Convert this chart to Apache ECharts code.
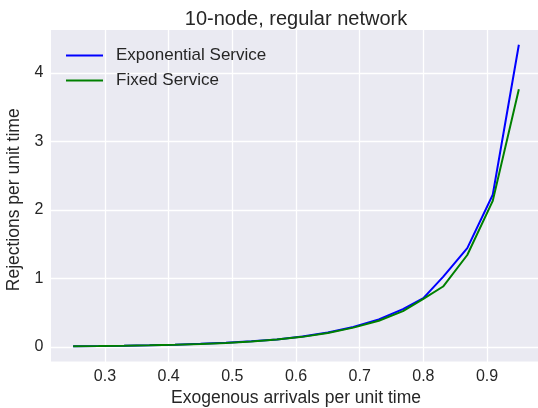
<!DOCTYPE html>
<html>
<head>
<meta charset="utf-8">
<script src="https://cdn.jsdelivr.net/npm/echarts@6/dist/echarts.min.js"></script>
<style>html,body{margin:0;padding:0;background:#fff;}#c{width:538px;height:408px;}</style>
</head>
<body>
<div id="c"></div>
<script>
const titleText = "10-node, regular network";
const xName = "Exogenous arrivals per unit time";
const yName = "Rejections per unit time";
const seriesNames = ["Exponential Service", "Fixed Service"];
const arrivals = [0.25, 0.29, 0.33, 0.37, 0.41, 0.45, 0.49, 0.53, 0.57, 0.61, 0.65, 0.69, 0.73, 0.768, 0.80, 0.831, 0.869, 0.909, 0.95];
const expRejections = [0.008, 0.011, 0.016, 0.022, 0.031, 0.043, 0.059, 0.08, 0.108, 0.15, 0.21, 0.29, 0.40, 0.55, 0.71, 1.02, 1.44, 2.22, 4.41];
const fixRejections = [0.008, 0.011, 0.016, 0.022, 0.030, 0.042, 0.057, 0.078, 0.105, 0.145, 0.20, 0.28, 0.38, 0.52, 0.70, 0.88, 1.34, 2.13, 3.76];
const xTicks = [0.3, 0.4, 0.5, 0.6, 0.7, 0.8, 0.9];
const yTicks = [0, 1, 2, 3, 4];

const chart = echarts.init(document.getElementById('c'), null, {renderer: 'canvas'});
const font = 'Liberation Sans, Arial, sans-serif';
const txt = '#262626';
function pairs(xs, ys){ return xs.map((x,i)=>[x, ys[i]]); }
chart.setOption({
  animation: false,
  backgroundColor: '#ffffff',
  title: {
    text: titleText, left: 291, top: 4, textAlign: 'center',
    textStyle: {fontFamily: font, fontSize: 20, fontWeight: 'normal', color: txt}
  },
  graphic: [{
    type: 'rect', z: -10, silent: true,
    shape: {x: 51, y: 30, width: 500, height: 331.5},
    style: {fill: '#EAEAF2'}
  }],
  grid: {left: 41.3, right: -12.7, top: 4.3, bottom: -7.3, containLabel: false, outerBoundsMode: 'none'},
  legend: {
    left: 66, top: 47, orient: 'vertical', itemWidth: 37, itemHeight: 2, itemGap: 8, padding: 0,
    icon: 'rect',
    textStyle: {fontFamily: font, fontSize: 17, color: txt, padding: [0, 0, 0, 8]},
    data: seriesNames
  },
  xAxis: {
    type: 'value', min: 0.2, max: 1.0, interval: 0.1,
    name: xName, nameLocation: 'middle', nameGap: -26,
    nameTextStyle: {fontFamily: font, fontSize: 17.5, color: txt},
    axisLine: {show: false}, axisTick: {show: false},
    axisLabel: {
      margin: -47, fontFamily: font, fontSize: 16, color: txt,
      formatter: v => { const r = Math.round(v*10)/10; return xTicks.some(t => Math.abs(t-r) < 1e-6) ? r.toFixed(1) : ''; }
    },
    splitLine: {show: true, lineStyle: {color: '#ffffff', width: 1.3}}
  },
  yAxis: {
    type: 'value', min: -1, max: 5, interval: 1,
    name: yName, nameLocation: 'middle', nameGap: 10, nameRotate: 90,
    nameTextStyle: {fontFamily: font, fontSize: 17.5, color: txt, padding: [0, 0, 0, 20]},
    axisLine: {show: false}, axisTick: {show: false},
    axisLabel: {
      margin: -2, fontFamily: font, fontSize: 16, color: txt,
      formatter: v => yTicks.includes(v) ? String(v) : ''
    },
    splitLine: {show: true, lineStyle: {color: '#ffffff', width: 1.3}}
  },
  series: [
    {name: seriesNames[0], type: 'line', data: pairs(arrivals, expRejections), showSymbol: false, symbol: 'none',
     lineStyle: {color: '#0000ff', width: 2}, itemStyle: {color: '#0000ff'}, z: 3},
    {name: seriesNames[1], type: 'line', data: pairs(arrivals, fixRejections), showSymbol: false, symbol: 'none',
     lineStyle: {color: '#008000', width: 2}, itemStyle: {color: '#008000'}, z: 4}
  ]
});
</script>
</body>
</html>
